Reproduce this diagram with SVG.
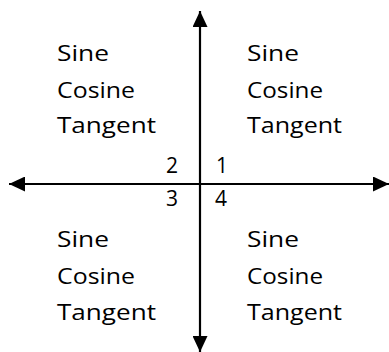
<svg xmlns="http://www.w3.org/2000/svg" width="389" height="352" viewBox="0 0 389 352">
<style>
.t{font-family:"Comic Sans MS","Open Sans","DejaVu Sans",sans-serif;font-size:21px;fill:#000}
.ax{stroke:#000;stroke-width:2.2;fill:none}
</style>
<defs>
<marker id="ah" markerUnits="userSpaceOnUse" markerWidth="16" markerHeight="15" refX="16" refY="7.5" orient="auto" viewBox="0 0 16 15">
<path d="M0,0 L16,7.5 L0,15 z" fill="#000"/>
</marker>
</defs>
<rect width="389" height="352" fill="#fff"/>
<g id="connectors">
<line class="ax" x1="200" y1="184" x2="200" y2="11" marker-end="url(#ah)"/>
<line class="ax" x1="200" y1="184" x2="200" y2="352" marker-end="url(#ah)"/>
<line class="ax" x1="200" y1="184" x2="9" y2="184" marker-end="url(#ah)"/>
<line class="ax" x1="200" y1="184" x2="389" y2="184" marker-end="url(#ah)"/>
</g>
<g id="q2">
<text class="t" x="57" y="61" textLength="52" lengthAdjust="spacingAndGlyphs">Sine</text>
<text class="t" x="57" y="98" textLength="78" lengthAdjust="spacingAndGlyphs">Cosine</text>
<text class="t" x="57" y="133" textLength="99" lengthAdjust="spacingAndGlyphs">Tangent</text>
</g>
<g id="q1">
<text class="t" x="247" y="61" textLength="52" lengthAdjust="spacingAndGlyphs">Sine</text>
<text class="t" x="247" y="98" textLength="76" lengthAdjust="spacingAndGlyphs">Cosine</text>
<text class="t" x="247" y="133" textLength="95" lengthAdjust="spacingAndGlyphs">Tangent</text>
</g>
<g id="q3">
<text class="t" x="57" y="247" textLength="52" lengthAdjust="spacingAndGlyphs">Sine</text>
<text class="t" x="57" y="284" textLength="78" lengthAdjust="spacingAndGlyphs">Cosine</text>
<text class="t" x="57" y="320" textLength="99" lengthAdjust="spacingAndGlyphs">Tangent</text>
</g>
<g id="q4">
<text class="t" x="247" y="247" textLength="52" lengthAdjust="spacingAndGlyphs">Sine</text>
<text class="t" x="247" y="284" textLength="76" lengthAdjust="spacingAndGlyphs">Cosine</text>
<text class="t" x="247" y="320" textLength="95" lengthAdjust="spacingAndGlyphs">Tangent</text>
</g>
<g id="labels">
<text class="t" x="166" y="173">2</text>
<text class="t" x="216" y="173">1</text>
<text class="t" x="166" y="206">3</text>
<text class="t" x="215" y="206">4</text>
</g>
</svg>
